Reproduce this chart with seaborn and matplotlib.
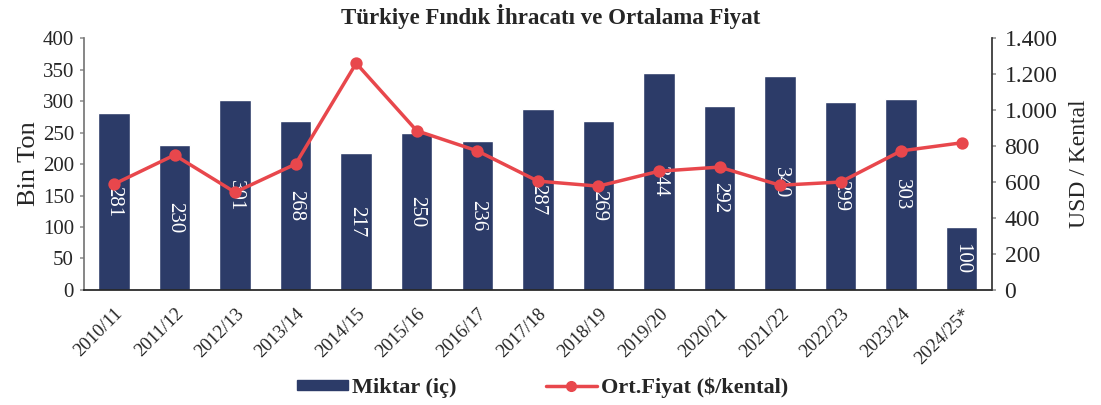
import matplotlib
matplotlib.use("Agg")
import matplotlib.pyplot as plt
import numpy as np
import pandas as pd
import seaborn as sns
from matplotlib.lines import Line2D
from matplotlib.patches import Patch
from matplotlib.ticker import FuncFormatter

sezonlar = ["2010/11", "2011/12", "2012/13", "2013/14", "2014/15", "2015/16",
            "2016/17", "2017/18", "2018/19", "2019/20", "2020/21", "2021/22",
            "2022/23", "2023/24", "2024/25*"]
miktar = [281, 230, 301, 268, 217, 250, 236, 287, 269, 344, 292, 340, 299, 303, 100]
fiyat = [588, 750, 543, 700, 1260, 885, 773, 605, 577, 660, 683, 582, 600, 773, 818]

bar_color = "#2c3b68"
line_color = "#e8474c"
serif = ['Liberation Serif', 'DejaVu Serif']

sns.set_theme(style="white")
plt.rcParams['font.family'] = serif

df = pd.DataFrame({"sezon": sezonlar, "miktar": miktar, "fiyat": fiyat})

fig = plt.figure(figsize=(11.01, 4.05), dpi=100)
ax = fig.add_axes([0.076, 0.284, 0.825, 0.622])

sns.barplot(data=df, x="sezon", y="miktar", color=bar_color, saturation=1,
            width=0.52, errorbar=None, ax=ax)
ax.bar_label(ax.containers[0], label_type="center", rotation=270,
             color="white", fontsize=15)

ax2 = ax.twinx()
sns.pointplot(data=df, x="sezon", y="fiyat", color=line_color, markers="o",
              errorbar=None, markersize=7, linewidth=2.5, ax=ax2)

n = len(sezonlar)
ax.set_xlim(-0.5, n - 0.5)
ax.set_ylim(0, 400)
ax.set_yticks(range(0, 401, 50))
ax2.set_ylim(0, 1400)
ax2.set_yticks(range(0, 1401, 200))
ax2.yaxis.set_major_formatter(FuncFormatter(lambda v, p: f"{int(v):,}".replace(",", ".")))

ax.set_xticks(range(n))
ax.set_xticklabels(sezonlar, rotation=45, ha="right", rotation_mode="anchor", fontsize=13.5)
ax.set_xticks(np.arange(-0.5, n), minor=True)
ax.tick_params(axis="x", which="major", length=0, pad=11)
ax.tick_params(axis="x", which="minor", length=5, direction="out", color="#333333", width=1)
ax.tick_params(axis="y", length=3, direction="out", color="#999999", labelsize=15, pad=4)
ax2.tick_params(axis="y", length=3, direction="out", color="#999999", labelsize=17, pad=6)

ax.set_xlabel("")
ax.set_ylabel("Bin Ton", fontsize=19, labelpad=2)
ax2.set_xlabel("")
ax2.set_ylabel("USD / Kental", fontsize=17, labelpad=8)

for a in (ax, ax2):
    a.spines["top"].set_visible(False)
ax.spines["right"].set_visible(False)
ax2.spines["left"].set_visible(False)
ax2.spines["bottom"].set_visible(False)
ax.spines["left"].set_color("#777777")
ax.spines["bottom"].set_color("#222222")
ax2.spines["right"].set_color("#333333")
ax2.grid(False)
ax.grid(False)

fig.text(0.5, 0.96, "Türkiye Fındık İhracatı ve Ortalama Fiyat", ha="center",
         va="center", fontsize=16.5, fontweight="bold")

handles = [Patch(color=bar_color),
           Line2D([], [], color=line_color, marker="o", lw=2.5, markersize=7)]
fig.legend(handles, ["Miktar (iç)", "Ort.Fiyat ($/kental)"], loc="center",
           bbox_to_anchor=(0.493, 0.043), ncol=2, frameon=False,
           prop=dict(family=serif, weight="bold", size=16), handlelength=2.3,
           handleheight=0.35, columnspacing=4, handletextpad=0.2)

fig.savefig("out.png", dpi=100)
